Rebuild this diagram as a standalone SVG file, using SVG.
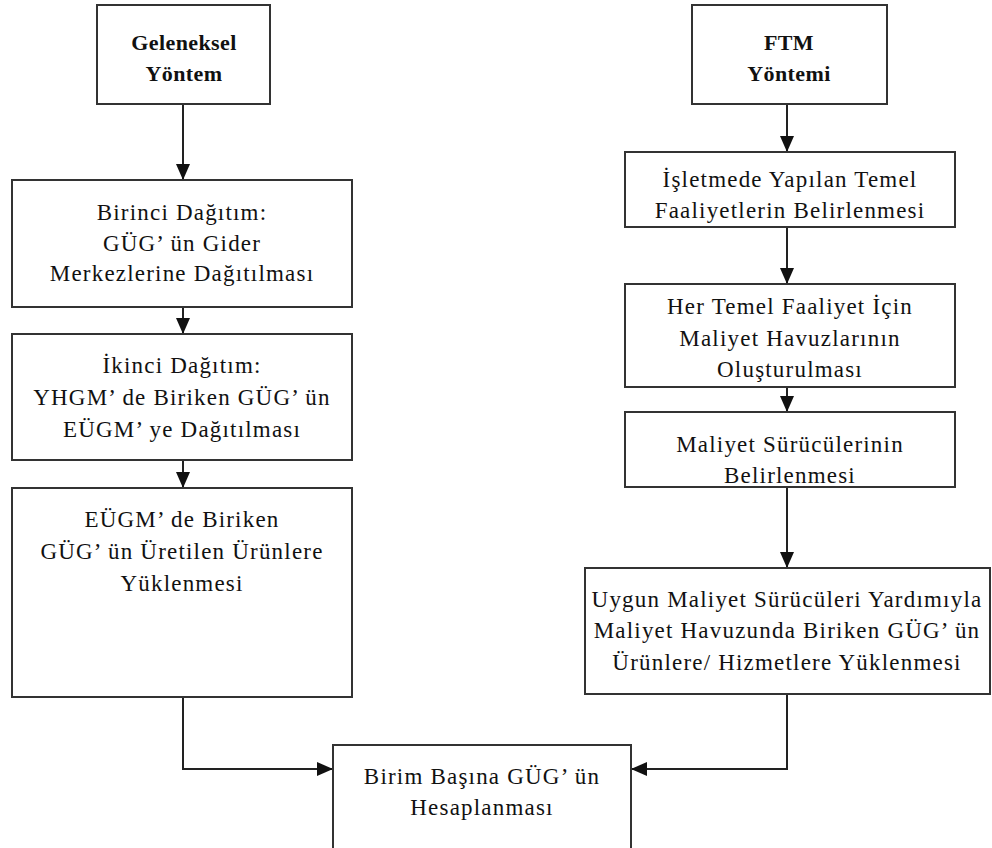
<svg xmlns="http://www.w3.org/2000/svg" width="992" height="848" viewBox="0 0 992 848">
  <style>
    .box { fill: #ffffff; stroke: #333333; stroke-width: 2; }
    .wire { fill: none; stroke: #222222; stroke-width: 2; }
    .lbl { font-family: 'Liberation Serif', 'DejaVu Serif', 'Times New Roman', serif; font-size: 23px; fill: #111111; text-anchor: middle; letter-spacing: 1.2px; }
    .head { font-size: 22px; font-weight: bold; letter-spacing: 0.4px; }
  </style>
  <defs>
    <marker id="arrow" viewBox="0 0 16 14" refX="16" refY="7" markerWidth="16" markerHeight="14" orient="auto" markerUnits="userSpaceOnUse">
      <path d="M0,0 L16,7 L0,14 z" fill="#111111"/>
    </marker>
  </defs>
  <rect width="992" height="848" fill="#ffffff"/>

  <!-- connectors -->
  <g id="connectors">
    <line class="wire" x1="183" y1="104" x2="183" y2="180" marker-end="url(#arrow)"/>
    <line class="wire" x1="183" y1="307" x2="183" y2="334" marker-end="url(#arrow)"/>
    <line class="wire" x1="183" y1="460" x2="183" y2="488" marker-end="url(#arrow)"/>
    <polyline class="wire" points="183,697 183,769 333,769" marker-end="url(#arrow)"/>
    <line class="wire" x1="787" y1="104" x2="787" y2="152" marker-end="url(#arrow)"/>
    <line class="wire" x1="787" y1="227" x2="787" y2="284" marker-end="url(#arrow)"/>
    <line class="wire" x1="787" y1="387" x2="787" y2="412" marker-end="url(#arrow)"/>
    <line class="wire" x1="787" y1="487" x2="787" y2="568" marker-end="url(#arrow)"/>
    <polyline class="wire" points="787,694 787,769 631,769" marker-end="url(#arrow)"/>
  </g>

  <!-- traditional method column -->
  <g id="geleneksel" class="lbl">
    <rect class="box" x="97" y="5" width="173" height="99"/>
    <text class="head" x="184" y="50">Geleneksel</text>
    <text class="head" x="184" y="81">Yöntem</text>
  </g>
  <g id="birinci" class="lbl">
    <rect class="box" x="12" y="180" width="340" height="127"/>
    <text x="182" y="220">Birinci Dağıtım:</text>
    <text x="182" y="251">GÜG’ ün Gider</text>
    <text x="182" y="281">Merkezlerine Dağıtılması</text>
  </g>
  <g id="ikinci" class="lbl">
    <rect class="box" x="12" y="334" width="340" height="126"/>
    <text x="182" y="373">İkinci Dağıtım:</text>
    <text x="182" y="405">YHGM’ de Biriken GÜG’ ün</text>
    <text x="182" y="437">EÜGM’ ye Dağıtılması</text>
  </g>
  <g id="eugm" class="lbl">
    <rect class="box" x="12" y="488" width="340" height="209"/>
    <text x="182" y="527">EÜGM’ de Biriken</text>
    <text x="182" y="559">GÜG’ ün Üretilen Ürünlere</text>
    <text x="182" y="591">Yüklenmesi</text>
  </g>

  <!-- shared result -->
  <g id="birim" class="lbl">
    <rect class="box" x="333" y="745" width="298" height="110"/>
    <text x="482" y="784">Birim Başına GÜG’ ün</text>
    <text x="482" y="815">Hesaplanması</text>
  </g>

  <!-- activity based column -->
  <g id="ftm" class="lbl">
    <rect class="box" x="692" y="5" width="195" height="99"/>
    <text class="head" x="789" y="50">FTM</text>
    <text class="head" x="789" y="81">Yöntemi</text>
  </g>
  <g id="isletmede" class="lbl">
    <rect class="box" x="625" y="152" width="330" height="75"/>
    <text x="790" y="187">İşletmede Yapılan Temel</text>
    <text x="790" y="218">Faaliyetlerin Belirlenmesi</text>
  </g>
  <g id="havuz" class="lbl">
    <rect class="box" x="625" y="284" width="330" height="103"/>
    <text x="790" y="314">Her Temel Faaliyet İçin</text>
    <text x="790" y="346">Maliyet Havuzlarının</text>
    <text x="790" y="377">Oluşturulması</text>
  </g>
  <g id="surucu" class="lbl">
    <rect class="box" x="625" y="412" width="330" height="75"/>
    <text x="790" y="452">Maliyet Sürücülerinin</text>
    <text x="790" y="483">Belirlenmesi</text>
  </g>
  <g id="yukleme" class="lbl">
    <rect class="box" x="585" y="568" width="405" height="126"/>
    <text x="787" y="607">Uygun Maliyet Sürücüleri Yardımıyla</text>
    <text x="787" y="638">Maliyet Havuzunda Biriken GÜG’ ün</text>
    <text x="787" y="670">Ürünlere/ Hizmetlere Yüklenmesi</text>
  </g>
</svg>
